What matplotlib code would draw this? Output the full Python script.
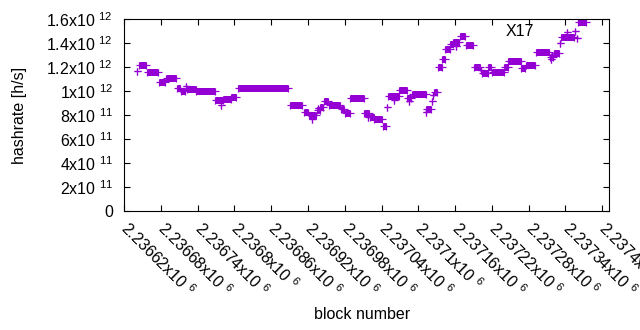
import matplotlib
matplotlib.use('Agg')
import matplotlib.pyplot as plt

plt.rcParams['font.family'] = ['Liberation Sans', 'DejaVu Sans']
plt.rcParams['mathtext.fontset'] = 'custom'
plt.rcParams['mathtext.rm'] = 'Liberation Sans'
plt.rcParams['mathtext.default'] = 'regular'

# runs of blocks sharing the same hashrate estimate (first block, last block, h/s)
run_first = [2236642, 2236644, 2236658, 2236677, 2236688, 2236706, 2236713, 2236721,
             2236723, 2236738, 2236769, 2236778, 2236782, 2236795, 2236806, 2236890,
             2236913, 2236921, 2236927, 2236934, 2236937, 2236940, 2236946, 2236954,
             2236974, 2236980, 2236989, 2237012, 2237018, 2237021, 2237028, 2237042,
             2237049, 2237050, 2237061, 2237069, 2237082, 2237084, 2237089, 2237113,
             2237113, 2237122, 2237124, 2237125, 2237132, 2237139, 2237144, 2237152,
             2237157, 2237162, 2237168, 2237177, 2237191, 2237203, 2237204, 2237214,
             2237220, 2237240, 2237247, 2237268, 2237275, 2237292, 2237314, 2237316,
             2237321, 2237331, 2237333, 2237343, 2237355, 2237359, 2237360]
run_last = [2236642, 2236656, 2236675, 2236687, 2236705, 2236712, 2236719, 2236721,
            2236737, 2236768, 2236781, 2236778, 2236794, 2236803, 2236888, 2236911,
            2236920, 2236933, 2236927, 2236939, 2236937, 2236945, 2236953, 2236973,
            2236979, 2236988, 2237011, 2237020, 2237018, 2237027, 2237041, 2237048,
            2237049, 2237068, 2237061, 2237081, 2237088, 2237084, 2237112, 2237121,
            2237113, 2237122, 2237124, 2237131, 2237138, 2237143, 2237151, 2237156,
            2237167, 2237162, 2237176, 2237190, 2237200, 2237203, 2237213, 2237219,
            2237239, 2237246, 2237267, 2237274, 2237291, 2237313, 2237320, 2237316,
            2237330, 2237331, 2237354, 2237343, 2237355, 2237359, 2237373]
run_rate = [1.167e12, 1.213e12, 1.156e12, 1.075e12, 1.106e12, 1.023e12, 1.000e12, 1.042e12,
            1.014e12, 1.002e12, 0.921e12, 0.883e12, 0.936e12, 0.950e12, 1.023e12, 0.881e12,
            0.823e12, 0.803e12, 0.767e12, 0.838e12, 0.861e12, 0.867e12, 0.913e12, 0.882e12,
            0.846e12, 0.820e12, 0.939e12, 0.813e12, 0.783e12, 0.785e12, 0.764e12, 0.706e12,
            0.864e12, 0.956e12, 0.925e12, 1.006e12, 0.943e12, 0.917e12, 0.971e12, 0.854e12,
            0.828e12, 0.913e12, 0.967e12, 0.988e12, 1.198e12, 1.267e12, 1.350e12, 1.390e12,
            1.408e12, 1.375e12, 1.457e12, 1.381e12, 1.203e12, 1.175e12, 1.146e12, 1.204e12,
            1.158e12, 1.200e12, 1.246e12, 1.192e12, 1.217e12, 1.323e12, 1.286e12, 1.264e12,
            1.314e12, 1.396e12, 1.454e12, 1.494e12, 1.504e12, 1.438e12, 1.573e12]

y_ticks = [0, 0.2e12, 0.4e12, 0.6e12, 0.8e12, 1.0e12, 1.2e12, 1.4e12, 1.6e12]
y_labels = ['0', '2x10 $^{11}$', '4x10 $^{11}$', '6x10 $^{11}$', '8x10 $^{11}$',
            '1x10 $^{12}$', '1.2x10 $^{12}$', '1.4x10 $^{12}$', '1.6x10 $^{12}$']
x_ticks = [2236620, 2236680, 2236740, 2236800, 2236860, 2236920, 2236980,
           2237040, 2237100, 2237160, 2237220, 2237280, 2237340, 2237400]
x_labels = ['2.23662x10 $^{6}$', '2.23668x10 $^{6}$', '2.23674x10 $^{6}$', '2.2368x10 $^{6}$',
            '2.23686x10 $^{6}$', '2.23692x10 $^{6}$', '2.23698x10 $^{6}$', '2.23704x10 $^{6}$',
            '2.2371x10 $^{6}$', '2.23716x10 $^{6}$', '2.23722x10 $^{6}$', '2.23728x10 $^{6}$',
            '2.23734x10 $^{6}$', '2.2374x10 $^{6}$']

color = '#9400d3'
px = 72 / 100  # one pixel in points
fs = 11.5

fig = plt.figure(figsize=(6.4, 3.3), dpi=100)
ax = fig.add_axes([124 / 640, 1 - 211 / 330, 485 / 640, 192 / 330])

# dense runs of '+' points merge into solid bars
ax.hlines(run_rate, run_first, run_last, colors=color, linewidth=7 * px, capstyle='butt')
ax.plot(run_first, run_rate, '+', color=color, markersize=7 * px, markeredgewidth=1.2 * px)
ax.plot(run_last, run_rate, '+', color=color, markersize=7 * px, markeredgewidth=1.2 * px)

ax.set_xlim(2236620, 2237411)
ax.set_ylim(0, 1.6e12)
ax.set_yticks(y_ticks)
ax.set_yticklabels(y_labels, fontsize=fs)
ax.set_xticks(x_ticks)
ax.set_xticklabels(x_labels, fontsize=fs, rotation=-45, ha='left', va='center',
                   rotation_mode='anchor')
ax.tick_params(direction='in', length=4, width=0.8, top=True, right=True)
ax.tick_params(axis='y', pad=8)
ax.tick_params(axis='x', pad=10)
for s in ax.spines.values():
    s.set_linewidth(0.8)

ax.set_ylabel('hashrate [h/s]', fontsize=fs)
ax.yaxis.set_label_coords(-0.2, 0.5)
ax.set_xlabel('block number', fontsize=fs)
ax.xaxis.set_label_coords(0.49, -0.5)

ax.text(0.845, 0.934, 'X17', transform=ax.transAxes, ha='right', va='center', fontsize=fs)

fig.savefig('out.png', dpi=100)
